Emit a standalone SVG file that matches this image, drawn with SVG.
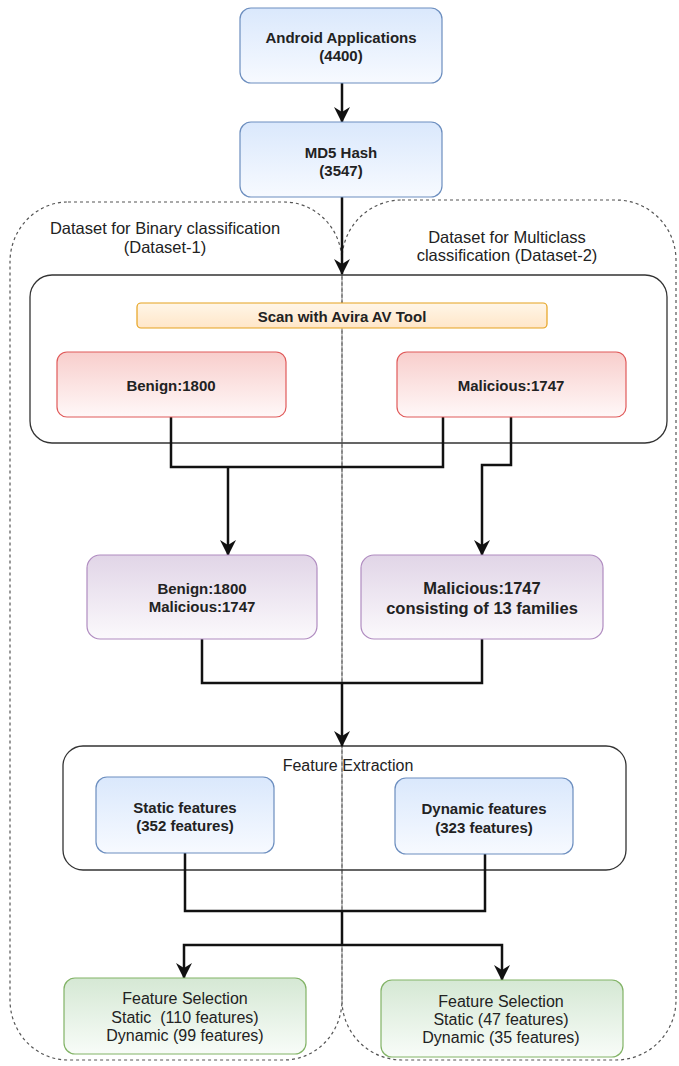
<svg xmlns="http://www.w3.org/2000/svg" width="679" height="1066" viewBox="0 0 679 1066">
<defs>
<style>
text{font-family:"Liberation Sans",Arial,sans-serif;fill:#222;text-anchor:middle;dominant-baseline:central}
.b{font-weight:bold;font-size:15px}
.r16{font-size:16px}
.lbl{font-size:16.5px}
.region{fill:none;stroke:#555;stroke-width:1.2;stroke-dasharray:3,3}
.group{fill:none;stroke:#333;stroke-width:1.3}
.blue{fill:url(#gBlue);stroke:#6c8ebf;stroke-width:1.2}
.red{fill:url(#gRed);stroke:#e05a5a;stroke-width:1.2}
.purple{fill:url(#gPurple);stroke:#b08cc0;stroke-width:1.2}
.green{fill:url(#gGreen);stroke:#82b366;stroke-width:1.2}
.orange{fill:url(#gOrange);stroke:#e6a21e;stroke-width:1.2}
.edge{fill:none;stroke:#111;stroke-width:2.5}
.arr{marker-end:url(#arrow)}
</style>
<linearGradient id="gBlue" x1="0" y1="0" x2="0" y2="1"><stop offset="0" stop-color="#dae8fc"/><stop offset="1" stop-color="#f7faff"/></linearGradient>
<linearGradient id="gRed" x1="0" y1="0" x2="0" y2="1"><stop offset="0" stop-color="#f8cecc"/><stop offset="1" stop-color="#fff8f8"/></linearGradient>
<linearGradient id="gPurple" x1="0" y1="0" x2="0" y2="1"><stop offset="0" stop-color="#e1d5e7"/><stop offset="1" stop-color="#fbf9fc"/></linearGradient>
<linearGradient id="gGreen" x1="0" y1="0" x2="0" y2="1"><stop offset="0" stop-color="#d5e8d4"/><stop offset="1" stop-color="#f8fcf8"/></linearGradient>
<linearGradient id="gOrange" x1="0" y1="0" x2="0" y2="1"><stop offset="0" stop-color="#fff6e8"/><stop offset="1" stop-color="#ffe6c8"/></linearGradient>
<marker id="arrow" markerUnits="userSpaceOnUse" markerWidth="16" markerHeight="16" viewBox="0 0 16 16" refX="15" refY="8" orient="auto">
<path d="M0,0 L16,8 L0,16 L5,8 z" fill="#111"/>
</marker>
</defs>
<rect width="679" height="1066" fill="#fff"/>

<g id="regions">
<rect class="region" x="10" y="202" width="332" height="858" rx="58" ry="60"/>
<rect class="region" x="342" y="200" width="334" height="860" rx="60" ry="60"/>
<text class="lbl" x="165" y="228">Dataset for Binary classification</text>
<text class="lbl" x="165" y="247">(Dataset-1)</text>
<text class="lbl" x="507" y="237">Dataset for Multiclass</text>
<text class="lbl" x="507" y="255">classification (Dataset-2)</text>
</g>

<g id="scan-group">
<rect class="group" x="30" y="275" width="637" height="168" rx="22"/>
</g>
<g id="feature-extraction">
<rect class="group" x="63" y="746" width="563" height="124" rx="20"/>
<text class="r16" x="348" y="765">Feature Extraction</text>
</g>

<g id="connectors">
<path class="edge arr" d="M342,83 V122"/>
<path class="edge arr" d="M342,197 V274"/>
<path class="edge" d="M171,417 V467 H443 V417"/>
<path class="edge arr" d="M228,467 V555"/>
<path class="edge arr" d="M511,417 V465 H482 V555"/>
<path class="edge" d="M202,639 V683 H482 V639"/>
<path class="edge arr" d="M342,683 V746"/>
<path class="edge" d="M185,853 V911 H485 V854"/>
<path class="edge" d="M342,911 V945"/>
<path class="edge arr" d="M342,945 H184 V978"/>
<path class="edge arr" d="M342,945 H502 V980"/>
</g>

<g id="android">
<rect class="blue" x="240" y="8" width="202" height="75" rx="11"/>
<text class="b" x="341" y="37">Android Applications</text>
<text class="b" x="341" y="55">(4400)</text>
</g>
<g id="md5">
<rect class="blue" x="240" y="122" width="202" height="75" rx="11"/>
<text class="b" x="341" y="152">MD5 Hash</text>
<text class="b" x="341" y="170">(3547)</text>
</g>
<g id="avira">
<rect class="orange" x="137" y="303" width="410" height="25" rx="4"/>
<text class="b" x="342" y="316">Scan with Avira AV Tool</text>
</g>
<g id="benign">
<rect class="red" x="57" y="352" width="229" height="65" rx="10"/>
<text class="b" x="171" y="385">Benign:1800</text>
</g>
<g id="malicious">
<rect class="red" x="397" y="352" width="229" height="65" rx="10"/>
<text class="b" x="511" y="385">Malicious:1747</text>
</g>
<g id="binary-set">
<rect class="purple" x="87" y="555" width="230" height="84" rx="13"/>
<text class="b" x="202" y="588">Benign:1800</text>
<text class="b" x="202" y="606">Malicious:1747</text>
</g>
<g id="multi-set">
<rect class="purple" x="361" y="555" width="242" height="84" rx="13"/>
<text class="b" x="482" y="588" style="font-size:16.5px">Malicious:1747</text>
<text class="b" x="482" y="608" style="font-size:16.5px">consisting of 13 families</text>
</g>
<g id="static">
<rect class="blue" x="96" y="777" width="178" height="76" rx="11"/>
<text class="b" x="185" y="807">Static features</text>
<text class="b" x="185" y="825">(352 features)</text>
</g>
<g id="dynamic">
<rect class="blue" x="395" y="778" width="178" height="76" rx="11"/>
<text class="b" x="484" y="808">Dynamic features</text>
<text class="b" x="484" y="827">(323 features)</text>
</g>
<g id="fs-binary">
<rect class="green" x="64" y="978" width="242" height="76" rx="11"/>
<text class="r16" x="185" y="998">Feature Selection</text>
<text class="r16" x="185" y="1017" style="white-space:pre">Static  (110 features)</text>
<text class="r16" x="185" y="1035">Dynamic (99 features)</text>
</g>
<g id="fs-multi">
<rect class="green" x="381" y="980" width="242" height="77" rx="11"/>
<text class="r16" x="501" y="1001">Feature Selection</text>
<text class="r16" x="501" y="1019">Static (47 features)</text>
<text class="r16" x="501" y="1037">Dynamic (35 features)</text>
</g>
</svg>
